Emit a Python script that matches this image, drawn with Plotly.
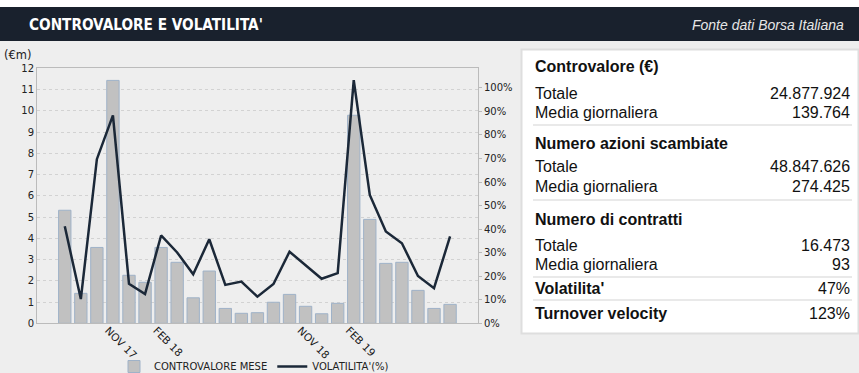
import plotly.graph_objects as go

# Monthly traded value (EUR millions) and monthly volatility (%), Aug 2017 - Aug 2019
months = list(range(25))
controvalore_mese = [5.32, 1.41, 3.57, 11.43, 2.26, 1.93, 3.57, 2.87, 1.20, 2.46,
                     0.70, 0.47, 0.50, 0.99, 1.36, 0.80, 0.45, 0.94, 9.79, 4.89,
                     2.82, 2.87, 1.55, 0.70, 0.89]
volatilita = [41.2, 10.3, 69.7, 88.3, 16.8, 12.4, 37.3, 30.1, 20.8, 35.7,
              16.3, 17.7, 11.3, 16.7, 30.4, 24.7, 18.9, 21.3, 103.3, 54.5,
              39.0, 34.0, 20.1, 14.9, 36.9]
tick_idx = [3, 6, 15, 18]
tick_text = ["NOV 17", "FEB 18", "NOV 18", "FEB 19"]

# Summary table
sec_titles = ["Controvalore (€)", "Numero azioni scambiate", "Numero di contratti"]
row_labels = ["Totale", "Media giornaliera"]
controvalore_vals = ["24.877.924", "139.764"]
azioni_vals = ["48.847.626", "274.425"]
contratti_vals = ["16.473", "93"]
extra_labels = ["Volatilita'", "Turnover velocity"]
extra_vals = ["47%", "123%"]

W, H = 859, 373


def px(x):
    return x / W


def py(y):
    return 1 - y / H


fig = go.Figure()
fig.add_trace(go.Bar(
    x=months, y=controvalore_mese, name="CONTROVALORE MESE", width=0.77,
    marker=dict(color="#c1c1c1", line=dict(color="#9fb2c8", width=1)),
))
fig.add_trace(go.Scatter(
    x=months, y=volatilita, name="VOLATILITA'(%)", yaxis="y2", mode="lines",
    line=dict(color="#1b2838", width=2.5),
))

axis_font = dict(family="DejaVu Sans", size=10, color="#222222")
fig.update_layout(
    width=W, height=H,
    margin=dict(l=0, r=0, t=0, b=0, autoexpand=False),
    paper_bgcolor="#eeeeee", plot_bgcolor="#eeeeee",
    showlegend=True,
    xaxis=dict(domain=[px(37), px(478)], range=[-1.73, 25.74],
               tickmode="array", tickvals=tick_idx, ticktext=tick_text,
               tickangle=45, tickfont=dict(family="DejaVu Sans", size=10.5, color="#1a1a1a"),
               ticklabelstandoff=-4, ticklabelshift=-5,
               showgrid=False, showline=True, linecolor="#bbbbbb", linewidth=1,
               mirror=True, zeroline=False, ticks=""),
    yaxis=dict(domain=[py(323.3), py(68.3)], range=[0, 12], dtick=1,
               tickfont=axis_font, showgrid=True, gridcolor="#d2d2d2",
               griddash="dot", gridwidth=1, zeroline=False,
               showline=True, linecolor="#bbbbbb", linewidth=1, ticks=""),
    yaxis2=dict(overlaying="y", side="right", range=[0, 108.3], dtick=10,
                ticksuffix="%", tickfont=dict(family="DejaVu Sans", size=10, color="#222222"),
                showgrid=False, zeroline=False, showline=True,
                linecolor="#bbbbbb", linewidth=1, ticks="outside", ticklen=3,
                tickcolor="#bbbbbb"),
    legend=dict(orientation="h", x=px(254), xanchor="center", y=py(366.5),
                yanchor="middle", bgcolor="rgba(0,0,0,0)",
                font=dict(family="DejaVu Sans", size=10, color="#222222")),
)

shapes = [
    # white strip and dark title band
    dict(type="rect", xref="paper", yref="paper", x0=0, x1=1, y0=py(7), y1=1,
         fillcolor="#ffffff", line=dict(width=0), layer="below"),
    dict(type="rect", xref="paper", yref="paper", x0=0, x1=1, y0=py(41), y1=py(7),
         fillcolor="#19212d", line=dict(width=0), layer="below"),
    # summary panel
    dict(type="rect", xref="paper", yref="paper", x0=px(521.5), x1=px(858.5),
         y0=py(333.5), y1=py(49.5), fillcolor="#ffffff",
         line=dict(color="#dedede", width=2), layer="below"),
]
for sy in [125, 200, 277, 300]:
    shapes.append(dict(type="line", xref="paper", yref="paper", x0=px(533), x1=px(852),
                       y0=py(sy), y1=py(sy), line=dict(color="#e2e2e2", width=1.5)))

panel_font = dict(family="Liberation Sans, Arial, sans-serif", size=16, color="#111111")
ann = [
    dict(text="<b>CONTROVALORE E VOLATILITA'</b>", x=px(27), y=py(25), xanchor="left",
         yanchor="middle",
         font=dict(family="DejaVu Sans Condensed, DejaVu Sans, sans-serif",
                   size=15.2, color="#ffffff")),
    dict(text="<i>Fonte dati Borsa Italiana</i>", x=px(846), y=py(25), xanchor="right",
         yanchor="middle",
         font=dict(family="Liberation Sans, Arial, sans-serif", size=14, color="#e6e6e6")),
    dict(text="(€m)", x=px(2), y=py(55.5), xanchor="left", yanchor="middle",
         font=dict(family="DejaVu Sans", size=11.5, color="#222222")),
]

section_rows = [(66.7, 94, 113), (143.3, 166, 186), (219.3, 245, 264)]
section_vals = [controvalore_vals, azioni_vals, contratti_vals]
for title, (ty, r1, r2), vals in zip(sec_titles, section_rows, section_vals):
    ann.append(dict(text=f"<b>{title}</b>", x=px(533), y=py(ty), xanchor="left",
                    yanchor="middle", font=panel_font))
    for lab, val, ry in zip(row_labels, vals, (r1, r2)):
        ann.append(dict(text=lab, x=px(533), y=py(ry), xanchor="left",
                        yanchor="middle", font=panel_font))
        ann.append(dict(text=val, x=px(852), y=py(ry), xanchor="right",
                        yanchor="middle", font=panel_font))
for lab, val, ry in zip(extra_labels, extra_vals, (288.5, 313)):
    ann.append(dict(text=f"<b>{lab}</b>", x=px(533), y=py(ry), xanchor="left",
                    yanchor="middle", font=panel_font))
    ann.append(dict(text=val, x=px(852), y=py(ry), xanchor="right",
                    yanchor="middle", font=panel_font))

for a in ann:
    a.update(xref="paper", yref="paper", showarrow=False)

fig.update_layout(shapes=shapes, annotations=ann)
fig.write_html("out.html")
